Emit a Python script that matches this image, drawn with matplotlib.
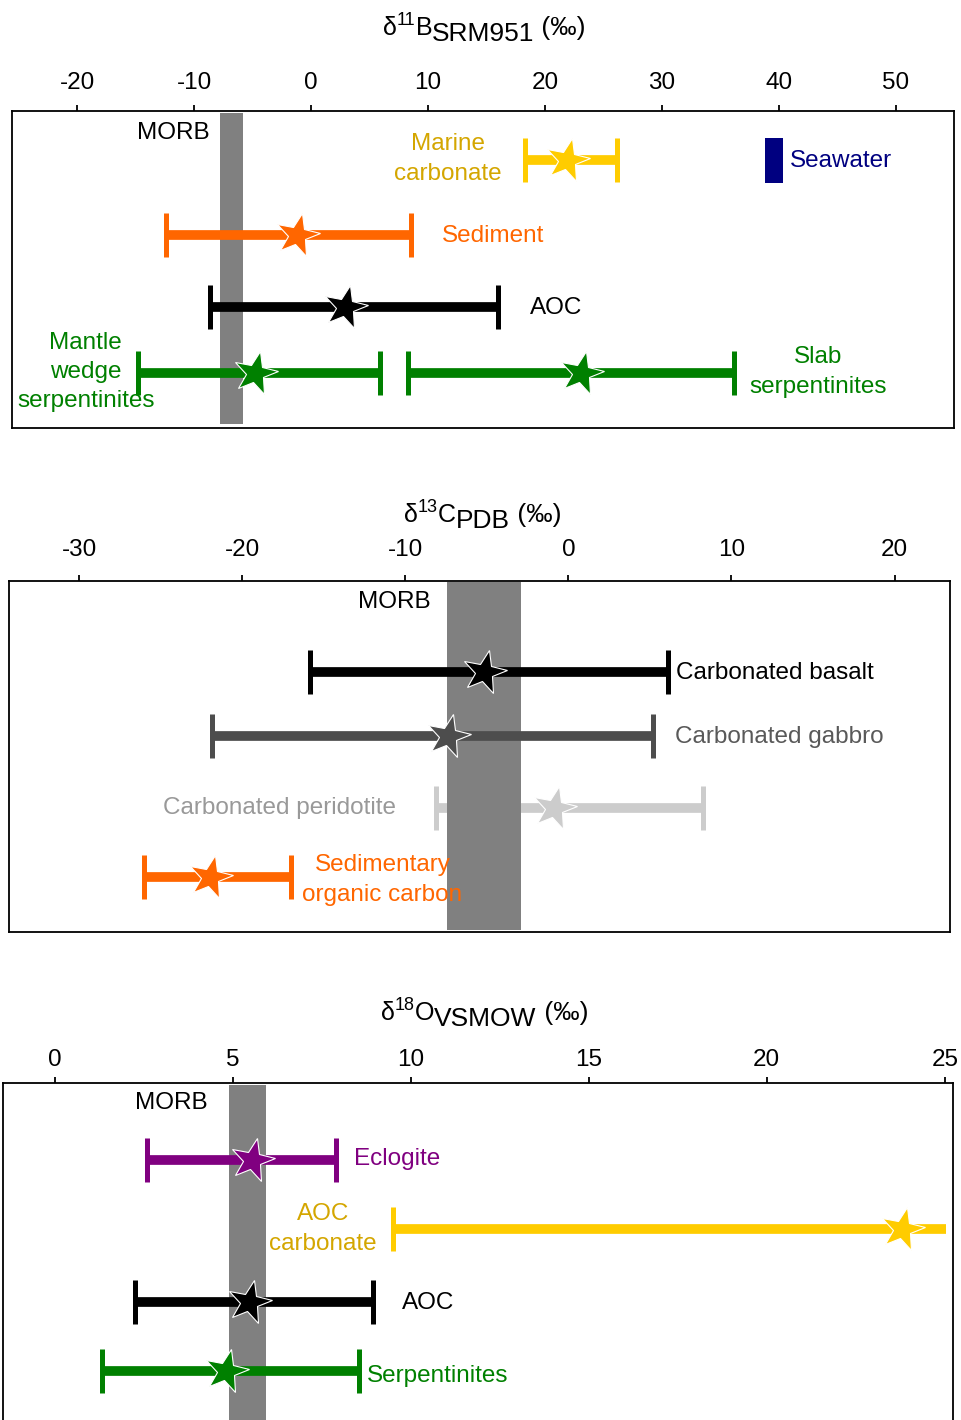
import matplotlib
matplotlib.use('Agg')
import matplotlib.pyplot as plt
from matplotlib.markers import MarkerStyle

plt.rcParams['font.family'] = ['Liberation Sans', 'DejaVu Sans']
plt.rcParams['axes.unicode_minus'] = False

W, H = 961, 1420

# boron isotopes (per mil, SRM951)
b_names = ['Marine\ncarbonate', 'Sediment', 'AOC', 'Mantle\nwedge\nserpentinites', 'Slab\nserpentinites']
b_low = [18.3, -12.4, -8.7, -14.8, 8.3]
b_high = [26.2, 8.5, 16.0, 5.9, 36.2]
b_mid = [21.9, -1.2, 2.9, -4.8, 23.1]
b_morb = [-7.8, -5.8]
b_seawater = [38.8, 40.4]
b_ticks = [-20, -10, 0, 10, 20, 30, 40, 50]

# carbon isotopes (per mil, PDB)
c_names = ['Carbonated basalt', 'Carbonated gabbro', 'Carbonated peridotite', 'Sedimentary\norganic carbon']
c_low = [-15.85, -21.85, -8.1, -26.0]
c_high = [6.1, 5.2, 8.25, -17.0]
c_mid = [-5.2, -7.4, -0.9, -22.0]
c_morb = [-7.44, -2.91]
c_ticks = [-30, -20, -10, 0, 10, 20]

# oxygen isotopes (per mil, VSMOW)
o_names = ['Eclogite', 'AOC\ncarbonate', 'AOC', 'Serpentinites']
o_low = [2.6, 9.5, 2.26, 1.33]
o_high = [7.9, 25.03, 8.94, 8.55]
o_mid = [5.55, 23.8, 5.46, 4.81]
o_morb = [4.9, 5.94]
o_ticks = [0, 5, 10, 15, 20, 25]

GOLD = '#FFCC00'
GOLD_TXT = '#D4A600'
ORANGE = '#FF6600'
GREEN = '#008000'
NAVY = '#000080'
PURPLE = '#800080'
BAND = '#808080'
FS = 17.5

star = MarkerStyle('*').rotated(deg=-12)

fig = plt.figure(figsize=(W / 100, H / 100), dpi=100)


def add_panel(box, xlim, ticks, pad):
    l, t, r, b = box
    ax = fig.add_axes([l / W, 1 - b / H, (r - l) / W, (b - t) / H])
    ax.set_xlim(*xlim)
    ax.set_ylim(b, t)   # y in pixel rows, top row first
    ax.xaxis.tick_top()
    ax.set_xticks(ticks)
    ax.set_yticks([])
    ax.tick_params(axis='x', direction='out', length=4, width=1.3, labelsize=FS, pad=pad)
    for sp in ax.spines.values():
        sp.set_linewidth(1.3)
    return ax


def draw_range(ax, y, lo, hi, mid, color, caps=(True, True), z=3):
    ax.hlines(y, lo, hi, color=color, lw=7, zorder=z)
    cap_x = [v for v, c in zip((lo, hi), caps) if c]
    ax.vlines(cap_x, y - 22, y + 22, color=color, lw=3.6, zorder=z)
    ax.plot(mid, y, marker=star, ms=33, mfc=color, mec='white', mew=0.8, zorder=z + 0.1)


def axis_title(ax, x0, base, main, sup, letter, sub):
    # pieces chained left to right, baselines given in image rows
    parts = [(main, 18, 0), (sup, 13, -10), (letter, 18, 0), (sub, 19, 6), (' (\u2030)', 19, 0)]
    prev = None
    for s, size, dy in parts:
        y = H - (base + dy)
        if prev is None:
            prev = ax.annotate(s, xy=(x0, y), xycoords='figure pixels', fontsize=size,
                               ha='left', va='baseline', annotation_clip=False)
        else:
            prev = ax.annotate(s, xy=(1, y), xycoords=(prev, 'figure pixels'), fontsize=size,
                               ha='left', va='baseline', annotation_clip=False)


def label(ax, x, y, s, color, ha='left', z=4):
    ax.text(x, y, s, color=color, fontsize=FS, ha=ha, va='center', linespacing=1.42,
            multialignment='center', zorder=z)


# ---- boron panel ----
ax1 = add_panel((12, 111, 954, 428), (-25.6, 55.0), b_ticks, 8.5)
ax1.axvspan(b_morb[0], b_morb[1], ymin=0.012, ymax=0.994, color=BAND, lw=0, zorder=2)
rows1 = [160, 235, 307, 373, 373]
cols1 = [GOLD, ORANGE, 'black', GREEN, GREEN]
for y, lo, hi, m, c in zip(rows1, b_low, b_high, b_mid, cols1):
    draw_range(ax1, y, lo, hi, m, c)
ax1.barh(160, b_seawater[1] - b_seawater[0], left=b_seawater[0], height=45, color=NAVY, zorder=3)
label(ax1, -8.65, 133, 'MORB', 'black', ha='right')
label(ax1, 11.7, 159, b_names[0], GOLD_TXT, ha='center')
label(ax1, 41.0, 161, 'Seawater', NAVY)
label(ax1, 11.2, 236, b_names[1], ORANGE)
label(ax1, 18.75, 308, b_names[2], 'black')
label(ax1, -19.3, 372, b_names[3], GREEN, ha='center')
label(ax1, 43.4, 372, b_names[4], GREEN, ha='center')
axis_title(ax1, 383, 35, '\u03b4', '11', 'B', 'SRM951')

# ---- carbon panel ----
ax2 = add_panel((9, 581, 950, 932), (-34.3, 23.4), c_ticks, 10.5)
ax2.axvspan(c_morb[0], c_morb[1], ymin=0.005, ymax=0.996, color=BAND, lw=0, zorder=2)
rows2 = [672, 736, 808, 877]
cols2 = ['black', '#4D4D4D', '#CCCCCC', ORANGE]
zs2 = [3, 3, 1, 3]
for y, lo, hi, m, c, z in zip(rows2, c_low, c_high, c_mid, cols2, zs2):
    draw_range(ax2, y, lo, hi, m, c, z=z)
label(ax2, -8.42, 602, 'MORB', 'black', ha='right')
label(ax2, 6.6, 673, c_names[0], 'black')
label(ax2, 6.54, 737, c_names[1], '#595959')
label(ax2, -10.6, 808, c_names[2], '#999999', ha='right')
label(ax2, -11.4, 880, c_names[3], ORANGE, ha='center')
axis_title(ax2, 404, 522, '\u03b4', '13', 'C', 'PDB')

# ---- oxygen panel ----
ax3 = add_panel((3, 1083, 953, 1440), (-1.45, 25.23), o_ticks, 4.5)
ax3.axvspan(o_morb[0], o_morb[1], ymin=0.0, ymax=0.994, color=BAND, lw=0, zorder=2)
rows3 = [1160, 1229, 1302, 1371]
cols3 = [PURPLE, GOLD, 'black', GREEN]
caps3 = [(True, True), (True, False), (True, True), (True, True)]
for y, lo, hi, m, c, cp in zip(rows3, o_low, o_high, o_mid, cols3, caps3):
    draw_range(ax3, y, lo, hi, m, c, caps=cp)
label(ax3, 4.31, 1103, 'MORB', 'black', ha='right')
label(ax3, 8.41, 1159, o_names[0], PURPLE)
label(ax3, 7.54, 1229, o_names[1], GOLD_TXT, ha='center')
label(ax3, 9.76, 1303, o_names[2], 'black')
label(ax3, 8.77, 1376, o_names[3], GREEN)
axis_title(ax3, 381, 1020, '\u03b4', '18', 'O', 'VSMOW')

fig.savefig('out.png', dpi=100)
